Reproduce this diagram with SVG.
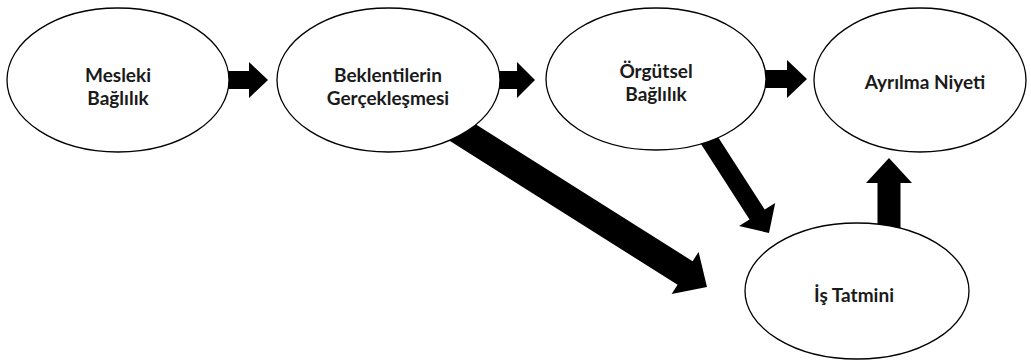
<svg xmlns="http://www.w3.org/2000/svg" width="1031" height="364" viewBox="0 0 1031 364">
<style>
.node ellipse{fill:#fff;stroke:#000;stroke-width:1.3}
.node text{font-family:"Lato","Open Sans","Liberation Sans",sans-serif;font-weight:bold;font-size:19px;fill:#1a1a1a;text-anchor:middle}
.arrow{fill:#000;stroke:none}
</style>
<rect width="1031" height="364" fill="#fff"/>
<g id="connectors">
<polygon class="arrow" points="212,71 249,71 249,62 268,80 249,98 249,89 212,89"/>
<polygon class="arrow" points="485,71 517,71 517,62 535,80 517,98 517,89 485,89"/>
<polygon class="arrow" points="748,70 787,70 787,60 807,79 787,98 787,88 748,88"/>
<polygon class="arrow" points="877.5,240 877.5,183 866,183 889,158 912,183 900.5,183 900.5,240"/>
<polygon class="arrow" points="692.8,131.2 749.5,219.4 739,226.1 769,233 775.2,202.9 764.7,209.6 708,121.4"/>
<polygon class="arrow" points="430.2,128.6 677.6,284.8 671.6,294.1 707,287 698.6,251.9 692.6,261.2 445.2,105"/>
</g>
<g id="node-mesleki" class="node">
<ellipse cx="118" cy="80" rx="111" ry="72"/>
<text x="118" y="82">Mesleki</text>
<text x="118" y="105">Bağlılık</text>
</g>
<g id="node-beklentiler" class="node">
<ellipse cx="388.5" cy="80" rx="111.5" ry="72"/>
<text x="388" y="82">Beklentilerin</text>
<text x="388" y="105">Gerçekleşmesi</text>
</g>
<g id="node-orgutsel" class="node">
<ellipse cx="656" cy="79" rx="110" ry="71"/>
<text x="656" y="78">Örgütsel</text>
<text x="656" y="101">Bağlılık</text>
</g>
<g id="node-ayrilma" class="node">
<ellipse cx="920" cy="80" rx="106" ry="72"/>
<text x="925" y="89">Ayrılma Niyeti</text>
</g>
<g id="node-is-tatmini" class="node">
<ellipse cx="857" cy="291" rx="112" ry="68"/>
<text x="854" y="302">İş Tatmini</text>
</g>
</svg>
